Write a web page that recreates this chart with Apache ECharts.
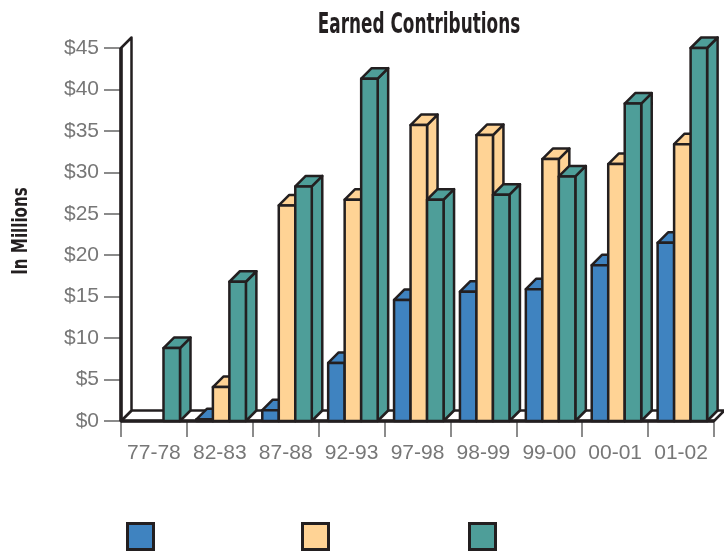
<!DOCTYPE html>
<html>
<head>
<meta charset="utf-8">
<title>Earned Contributions</title>
<script src="https://cdn.jsdelivr.net/npm/echarts@6/dist/echarts.min.js"></script>
<style>
  html, body { margin: 0; padding: 0; background: #fff; }
  #chart { width: 724px; height: 554px; }
</style>
</head>
<body>
<div id="chart"></div>
<script>
var years = ['77-78', '82-83', '87-88', '92-93', '97-98', '98-99', '99-00', '00-01', '01-02'];
var yTicks = [0, 5, 10, 15, 20, 25, 30, 35, 40, 45];

// values in millions of dollars
var blueVals   = [0,   0.2, 1.3, 7.0,  14.6, 15.6, 15.9, 18.8, 21.5];
var yellowVals = [0,   4.1, 26.0, 26.7, 35.7, 34.5, 31.6, 31.0, 33.4];
var tealVals   = [8.8, 16.8, 28.3, 41.3, 26.7, 27.3, 29.5, 38.3, 45.0];

var colors = ['#3f83c0', '#ffd395', '#4e9e99'];
var names = ['Series 1', 'Series 2', 'Series 3'];
var edge = '#231f20';
var condensed = "'DejaVu Sans Condensed', 'Liberation Sans Narrow', sans-serif";

var chart = echarts.init(document.getElementById('chart'));

var DEPTH = 10.5;
var BAR_W = 16.5;
var GAP0 = 9.5;

function barRenderer(k) {
    return function (params, api) {
        var v = api.value(1);
        if (!v) return;
        var cat = api.value(0);
        var top = api.coord([cat, v]);
        var base = api.coord([cat, 0]);
        var catW = api.size([1, 0])[0];
        var x0 = base[0] - catW / 2 + GAP0 + k * BAR_W;
        var x1 = x0 + BAR_W;
        var ty = top[1], by = base[1], d = DEPTH;
        var style = { fill: colors[k], stroke: edge, lineWidth: 2.5, lineJoin: 'round' };
        return {
            type: 'group',
            children: [
                { type: 'polygon', shape: { points: [[x1, ty], [x1 + d, ty - d], [x1 + d, by - d], [x1, by]] }, style: style },
                { type: 'polygon', shape: { points: [[x0, ty], [x0 + d, ty - d], [x1 + d, ty - d], [x1, ty]] }, style: style },
                { type: 'polygon', shape: { points: [[x0, by], [x0, ty], [x1, ty], [x1, by]] }, style: style }
            ]
        };
    };
}

// wall and floor, built from the axes
function frameRenderer(params, api) {
    var c0 = api.coord([0, 0]);
    var cTop = api.coord([0, yTicks[yTicks.length - 1]]);
    var catW = api.size([1, 0])[0];
    var left = c0[0] - catW / 2;
    var right = left + catW * years.length;
    var y0 = c0[1], yt = cTop[1], d = DEPTH;
    var st = { fill: '#fff', stroke: edge, lineWidth: 2.5, lineJoin: 'round' };
    return {
        type: 'group',
        children: [
            { type: 'polygon', shape: { points: [[left, y0], [right, y0], [right + d, y0 - d], [left + d, y0 - d]] }, style: st },
            { type: 'polygon', shape: { points: [[left, y0], [left, yt], [left + d, yt - d], [left + d, y0 - d]] }, style: st },
            { type: 'line', shape: { x1: left, y1: y0, x2: right, y2: y0 }, style: { stroke: edge, lineWidth: 3.5 } },
            { type: 'line', shape: { x1: left, y1: y0, x2: left, y2: yt }, style: { stroke: edge, lineWidth: 3.5 } }
        ]
    };
}

function toData(arr) {
    return arr.map(function (v, i) { return [i, v]; });
}

var series = [{
    name: 'frame',
    type: 'custom',
    renderItem: frameRenderer,
    data: [[0, 0]],
    clip: false,
    silent: true,
    z: 1
}];
[blueVals, yellowVals, tealVals].forEach(function (vals, k) {
    series.push({
        name: names[k],
        type: 'custom',
        renderItem: barRenderer(k),
        data: toData(vals),
        clip: false,
        itemStyle: { color: colors[k], borderColor: edge, borderWidth: 3 },
        z: 2
    });
});

function legendAt(k, x) {
    return {
        data: [names[k]],
        left: x,
        top: 522,
        padding: 0,
        itemWidth: 26,
        itemHeight: 26,
        icon: 'rect',
        formatter: function () { return ''; },
        itemStyle: { color: colors[k], borderColor: edge, borderWidth: 3 },
        selectedMode: false
    };
}

var option = {
    animation: false,
    // title drawn as narrowed text so it keeps the tall condensed look
    graphic: [{
        type: 'text',
        x: 419,
        y: 26,
        scaleX: 0.67,
        style: {
            text: 'Earned Contributions',
            font: 'bold 28px ' + condensed,
            fill: '#231f20',
            textAlign: 'center',
            textVerticalAlign: 'middle'
        }
    }, {
        type: 'text',
        x: 22,
        y: 231,
        rotation: Math.PI / 2,
        scaleX: 0.8,
        style: {
            text: 'In Millions',
            font: 'bold 21px ' + condensed,
            fill: '#231f20',
            textAlign: 'center',
            textVerticalAlign: 'middle'
        }
    }],
    legend: [legendAt(0, 126), legendAt(1, 301), legendAt(2, 468)],
    grid: { left: 121, right: 10, top: 48, bottom: 133, containLabel: false, outerBoundsMode: 'none' },
    xAxis: {
        type: 'category',
        data: years,
        axisLine: { show: false },
        axisTick: { show: true, length: 16, lineStyle: { color: '#666', width: 1.5 } },
        axisLabel: { interval: 0, hideOverlap: false, margin: 22, fontFamily: 'Liberation Sans', fontSize: 21, color: '#777' },
        splitLine: { show: false }
    },
    yAxis: {
        type: 'value',
        min: 0,
        max: 45,
        interval: 5,
        axisLine: { show: false },
        axisTick: { show: true, length: 17, lineStyle: { color: '#666', width: 1.5 } },
        axisLabel: {
            margin: 22,
            fontFamily: 'Liberation Sans',
            fontSize: 21,
            color: '#777',
            formatter: function (v) { return '$' + v; }
        },
        splitLine: { show: false }
    },
    series: series
};

chart.setOption(option);
</script>
</body>
</html>
